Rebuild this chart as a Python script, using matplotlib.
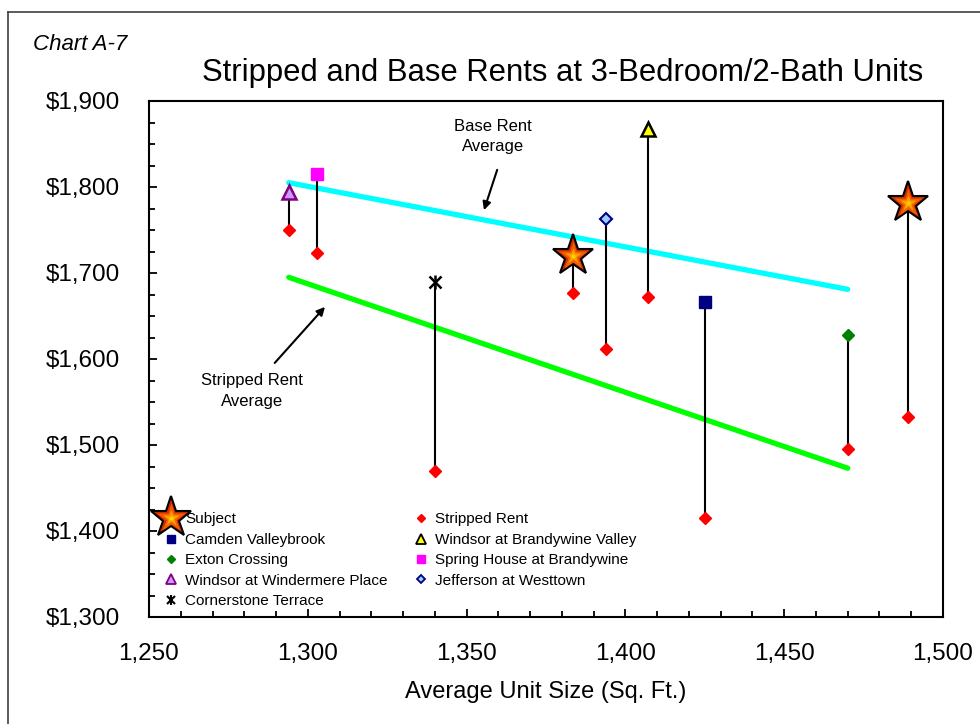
import matplotlib
matplotlib.use("Agg")
import matplotlib.pyplot as plt
from matplotlib.legend_handler import HandlerTuple
from matplotlib.lines import Line2D
from matplotlib.ticker import MultipleLocator, FuncFormatter

plt.rcParams['font.family'] = ['Liberation Sans', 'DejaVu Sans']

# ---- data ----
subject_size = [1383.5, 1489]
subject_base = [1720, 1781]
subject_stripped = [1677, 1533]

comp_names = ["Camden Valleybrook", "Windsor at Brandywine Valley", "Exton Crossing",
              "Spring House at Brandywine", "Windsor at Windermere Place",
              "Jefferson at Westtown", "Cornerstone Terrace"]
comp_size = [1425, 1407, 1470, 1303, 1294, 1394, 1340]
comp_base = [1666, 1867, 1628, 1815, 1794, 1763, 1690]
comp_stripped = [1415, 1672, 1495, 1723, 1750, 1612, 1470]

avg_size = [1294, 1470]
base_avg = [1805, 1681]
stripped_avg = [1695, 1473]

x_ticks = [1250, 1300, 1350, 1400, 1450, 1500]
y_ticks = [1300, 1400, 1500, 1600, 1700, 1800, 1900]

# ---- styles ----
comp_styles = {
    "Camden Valleybrook": dict(marker='s', ms=8.5, mfc='#000080', mec='#000080', mew=1),
    "Windsor at Brandywine Valley": dict(marker='^', ms=10, mfc='#FFFF00', mec='black', mew=1.8),
    "Exton Crossing": dict(marker='D', ms=6.5, mfc='#008000', mec='#008000', mew=1),
    "Spring House at Brandywine": dict(marker='s', ms=8.5, mfc='#FF00FF', mec='#FF00FF', mew=1),
    "Windsor at Windermere Place": dict(marker='^', ms=10, mfc='#CC99FF', mec='#800080', mew=1.8),
    "Jefferson at Westtown": dict(marker='D', ms=6.5, mfc='#99CCFF', mec='#000080', mew=1.5),
}
legend_scale = 0.65

fig = plt.figure(figsize=(9.8, 7.24), dpi=100)
ax = fig.add_axes([149/980, 1-617/724, 794/980, 516/724])

# figure border (left and top)
fig.add_artist(Line2D([8/980, 8/980], [0, 1-12/724], transform=fig.transFigure, color='#404040', lw=1.2))
fig.add_artist(Line2D([8/980, 1], [1-12/724, 1-12/724], transform=fig.transFigure, color='#404040', lw=1.2))

# average lines
ax.plot(avg_size, base_avg, color='#00FFFF', lw=3.8, solid_capstyle='round', zorder=2)
ax.plot(avg_size, stripped_avg, color='#00FF00', lw=3.8, solid_capstyle='round', zorder=2)

# vertical connectors
for xs, b, s in zip(comp_size + subject_size, comp_base + subject_base, comp_stripped + subject_stripped):
    ax.plot([xs, xs], [b, s], color='black', lw=1.5, zorder=3)

# stripped rent markers
ax.plot(comp_size + subject_size, comp_stripped + subject_stripped, ls='none',
        marker='D', ms=6.5, mfc='#FF0000', mec='#FF0000', zorder=4)
h_strip = Line2D([], [], ls='none', marker='D', ms=6.5 * legend_scale, mfc='#FF0000', mec='#FF0000')

handles = {}
for name, xs, b in zip(comp_names, comp_size, comp_base):
    if name == "Cornerstone Terrace":
        ax.plot([xs], [b], ls='none', marker='x', ms=8, mec='black', mew=1.8, zorder=5)
        ax.plot([xs], [b], ls='none', marker='|', ms=10, mec='black', mew=1.8, zorder=5)
        h1 = Line2D([], [], ls='none', marker='x', ms=5.5, mec='black', mew=1.5)
        h2 = Line2D([], [], ls='none', marker='|', ms=7, mec='black', mew=1.5)
        handles[name] = (h1, h2)
    else:
        st = comp_styles[name]
        ax.plot([xs], [b], ls='none', zorder=5, **st)
        st2 = dict(st)
        st2['ms'] = st['ms'] * legend_scale
        st2['mew'] = min(st['mew'], 1.3)
        handles[name] = Line2D([], [], ls='none', **st2)

# subject stars (layered for gradient effect)
ax.plot(subject_size, subject_base, ls='none', marker='*', ms=31, mfc='#D42A00', mec='black', mew=1.5, zorder=6)
ax.plot(subject_size, subject_base, ls='none', marker='*', ms=21, mfc='#F06000', mec='none', zorder=7)
ax.plot(subject_size, subject_base, ls='none', marker='*', ms=12, mfc='#FFA000', mec='none', zorder=8)
ax.plot(subject_size, subject_base, ls='none', marker='o', ms=3, mfc='#FFD000', mec='none', zorder=9)

# axes
ax.set_xlim(1250, 1500)
ax.set_ylim(1300, 1900)
ax.set_xticks(x_ticks)
ax.set_yticks(y_ticks)
ax.xaxis.set_minor_locator(MultipleLocator(10))
ax.yaxis.set_minor_locator(MultipleLocator(25))
ax.xaxis.set_major_formatter(FuncFormatter(lambda v, p: f"{v:,.0f}"))
ax.yaxis.set_major_formatter(FuncFormatter(lambda v, p: f"${v:,.0f}"))
ax.tick_params(axis='both', which='both', direction='in', width=1.3, colors='black',
               top=False, right=False)
ax.tick_params(axis='both', which='major', length=6, labelsize=17.5)
ax.tick_params(axis='y', which='major', pad=21)
ax.tick_params(axis='x', which='major', pad=19)
ax.tick_params(axis='both', which='minor', length=4.5)
for sp in ax.spines.values():
    sp.set_linewidth(1.5)
    sp.set_color('black')

ax.set_xlabel("Average Unit Size (Sq. Ft.)", fontsize=17, labelpad=11)

fig.text(0.574, 1-73/724, "Stripped and Base Rents at 3-Bedroom/2-Bath Units",
         fontsize=22.3, ha='center', va='center')
fig.text(33/980, 1-45/724, "Chart A-7", fontsize=16, style='italic', ha='left', va='center')

# annotations
ax.annotate("", xy=(1355.2, 1770), xytext=(1359.9, 1823),
            arrowprops=dict(arrowstyle='-|>', color='black', lw=1.5, mutation_scale=12))
ax.text(1358.3, 1859, "Base Rent\nAverage", fontsize=12, ha='center', va='center', linespacing=1.45)
ax.annotate("", xy=(1306, 1663), xytext=(1289, 1593),
            arrowprops=dict(arrowstyle='-|>', color='black', lw=1.5, mutation_scale=12))
ax.text(1282.4, 1563, "Stripped Rent\nAverage", fontsize=12, ha='center', va='center', linespacing=1.45)

# legend (column-major order)
star_handles = (
    Line2D([], [], ls='none', marker='*', ms=31, mfc='#D42A00', mec='black', mew=1.5),
    Line2D([], [], ls='none', marker='*', ms=21, mfc='#F06000', mec='none'),
    Line2D([], [], ls='none', marker='*', ms=12, mfc='#FFA000', mec='none'),
    Line2D([], [], ls='none', marker='o', ms=3, mfc='#FFD000', mec='none'),
)
leg_handles = [star_handles, handles["Camden Valleybrook"], handles["Exton Crossing"],
               handles["Windsor at Windermere Place"], handles["Cornerstone Terrace"],
               h_strip, handles["Windsor at Brandywine Valley"], handles["Spring House at Brandywine"],
               handles["Jefferson at Westtown"]]
leg_labels = ["Subject", "Camden Valleybrook", "Exton Crossing", "Windsor at Windermere Place",
              "Cornerstone Terrace", "Stripped Rent", "Windsor at Brandywine Valley",
              "Spring House at Brandywine", "Jefferson at Westtown"]

leg = ax.legend(leg_handles, leg_labels, ncol=2, loc='upper left',
                bbox_to_anchor=((163.5-149)/794, (617-512.5)/516), frameon=False,
                fontsize=11, borderpad=0, borderaxespad=0, handlelength=1.0,
                handletextpad=0.42, columnspacing=1.65, labelspacing=0.42,
                handler_map={tuple: HandlerTuple(ndivide=1, pad=0)})

fig.savefig("out.png", dpi=100)
